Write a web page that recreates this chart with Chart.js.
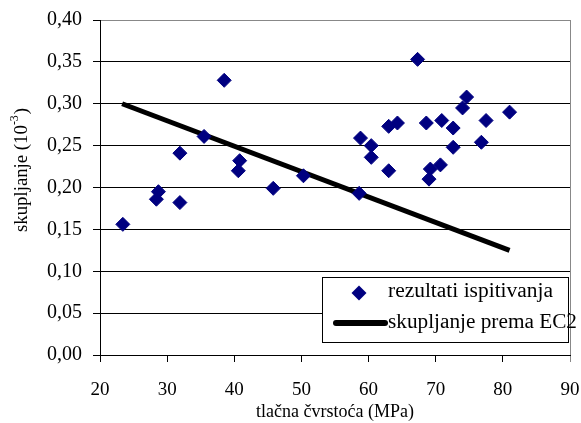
<!DOCTYPE html>
<html lang="hr">
<head>
  <meta charset="UTF-8" />
  <title>Skupljanje vs tlačna čvrstoća</title>
  <style>
    body { margin: 0; background: #ffffff; }
    #wrap { position: relative; width: 581px; height: 423px; }
  </style>
</head>
<body>
  <div id="wrap"><canvas id="chart" width="581" height="423"></canvas></div>

  <script src="https://cdn.jsdelivr.net/npm/chart.js"></script>
  <script>
    // measured results (MPa, 10^-3)
    const strength = [23.4, 28.4, 28.7, 31.9, 31.9, 35.5, 38.5, 40.6, 40.8, 45.8, 50.3,
      58.6, 58.8, 60.4, 60.4, 63.0, 63.0, 64.3, 68.6, 69.0, 69.2, 70.7, 70.9,
      72.6, 72.6, 74.0, 74.6, 76.8, 77.5, 81.0, 67.3];
    const shrinkage = [0.156, 0.186, 0.195, 0.182, 0.241, 0.261, 0.328, 0.220, 0.232, 0.199, 0.214,
      0.193, 0.259, 0.250, 0.236, 0.220, 0.273, 0.277, 0.277, 0.210, 0.222, 0.227, 0.280,
      0.271, 0.248, 0.295, 0.308, 0.254, 0.280, 0.290, 0.353];

    // EC2 prediction
    const ec2Strength = [23.3, 81.0];
    const ec2Shrinkage = [0.300, 0.125];

    const xMin = 20, xMax = 90, xStep = 10;
    const yMin = 0, yMax = 0.4, yStep = 0.05;

    const seriesNames = ['rezultati ispitivanja', 'skupljanje prema EC2'];
    const xTitle = 'tlačna čvrstoća (MPa)';
    const yTitle = ['skupljanje (10', '-3', ')'];

    const FONT = '"Liberation Serif", "Times New Roman", serif';

    const points = strength.map((x, i) => ({ x: x, y: shrinkage[i] }));
    const ec2Line = ec2Strength.map((x, i) => ({ x: x, y: ec2Shrinkage[i] }));

    // text squeezed/stretched to a given width
    function fitText(ctx, txt, x, y, w) {
      const nat = ctx.measureText(txt).width;
      ctx.save();
      ctx.translate(x, y);
      ctx.scale(w / nat, 1);
      ctx.fillText(txt, 0, 0);
      ctx.restore();
    }

    // y title with superscript + legend box inside the plot
    const extras = {
      id: 'extras',
      afterDraw(chart) {
        const ctx = chart.ctx;
        const area = chart.chartArea;

        // y axis title
        ctx.save();
        ctx.translate(22, 170);
        ctx.rotate(-Math.PI / 2);
        ctx.fillStyle = '#000';
        ctx.textBaseline = 'middle';
        ctx.font = '19px ' + FONT;
        const wa = ctx.measureText(yTitle[0]).width, wc = ctx.measureText(yTitle[2]).width;
        ctx.font = '12px ' + FONT;
        const wb = ctx.measureText(yTitle[1]).width + 1;
        const total = wa + wb + wc;
        ctx.scale(124 / total, 1);
        const sx = -total / 2;
        ctx.font = '19px ' + FONT;
        ctx.fillText(yTitle[0], sx, 0);
        ctx.font = '12px ' + FONT;
        ctx.fillText(yTitle[1], sx + wa, -7);
        ctx.font = '19px ' + FONT;
        ctx.fillText(yTitle[2], sx + wa + wb, 0);
        ctx.restore();

        // legend
        const lx = 322, ly = 277, lw = area.right - 2 - lx, lh = 65;
        ctx.save();
        ctx.fillStyle = '#fff';
        ctx.fillRect(lx, ly, lw, lh);
        ctx.strokeStyle = '#000';
        ctx.lineWidth = 1;
        ctx.strokeRect(lx + 0.5, ly + 0.5, lw, lh);

        const ds0 = chart.data.datasets[0];
        ctx.fillStyle = ds0.backgroundColor;
        ctx.beginPath();
        const mx = 359, my = 293, r = 7.5;
        ctx.moveTo(mx, my - r);
        ctx.lineTo(mx + r, my);
        ctx.lineTo(mx, my + r);
        ctx.lineTo(mx - r, my);
        ctx.closePath();
        ctx.fill();

        ctx.strokeStyle = '#000';
        ctx.lineWidth = 6;
        ctx.lineCap = 'round';
        ctx.beginPath();
        ctx.moveTo(336, 323);
        ctx.lineTo(385, 323);
        ctx.stroke();

        ctx.fillStyle = '#000';
        ctx.font = '20px ' + FONT;
        ctx.textBaseline = 'middle';
        fitText(ctx, seriesNames[0], 388, 292, 165);
        fitText(ctx, seriesNames[1], 388, 323, 189);
        ctx.restore();
      }
    };

    new Chart(document.getElementById('chart'), {
      type: 'scatter',
      data: {
        datasets: [
          {
            label: seriesNames[0],
            data: points,
            pointStyle: 'rectRot',
            pointRadius: 7,
            backgroundColor: '#000080',
            borderColor: '#000080',
            borderWidth: 1
          },
          {
            label: seriesNames[1],
            data: ec2Line,
            showLine: true,
            pointRadius: 0,
            borderColor: '#000',
            borderWidth: 5
          }
        ]
      },
      options: {
        responsive: false,
        animation: false,
        layout: { padding: { top: 20, right: 11, left: 0, bottom: 0 } },
        plugins: {
          legend: { display: false },
          tooltip: { enabled: false }
        },
        scales: {
          x: {
            type: 'linear',
            min: xMin,
            max: xMax,
            ticks: {
              stepSize: xStep,
              color: '#000',
              font: { family: FONT, size: 19 },
              padding: 17
            },
            grid: {
              color: ctx => (ctx.tick && ctx.tick.value === xMax) ? '#888' : 'rgba(0,0,0,0)',
              tickColor: ctx => (ctx.tick && ctx.tick.value === xMax) ? '#888' : '#000',
              tickLength: 7,
              lineWidth: 1
            },
            border: { color: '#000', width: 1 },
            title: {
              display: true,
              text: xTitle,
              color: '#000',
              font: { family: FONT, size: 18 },
              padding: { top: 0, bottom: 0 }
            },
            afterFit: scale => {
              scale.height = 68;
              scale.paddingLeft = 0;
              scale.paddingRight = 0;
            }
          },
          y: {
            min: yMin,
            max: yMax,
            ticks: {
              stepSize: yStep,
              color: '#000',
              font: { family: FONT, size: 20 },
              padding: 11,
              callback: v => v.toFixed(2).replace('.', ',')
            },
            grid: {
              color: ctx => (ctx.tick && Math.abs(ctx.tick.value - yMax) < 1e-9) ? '#888' : '#000',
              tickColor: '#000',
              tickLength: 7,
              lineWidth: 1
            },
            border: { color: '#000', width: 1 },
            afterFit: scale => {
              scale.width = 100;
              scale.paddingTop = 0;
              scale.paddingBottom = 0;
            }
          }
        }
      },
      plugins: [extras]
    });
  </script>
</body>
</html>
